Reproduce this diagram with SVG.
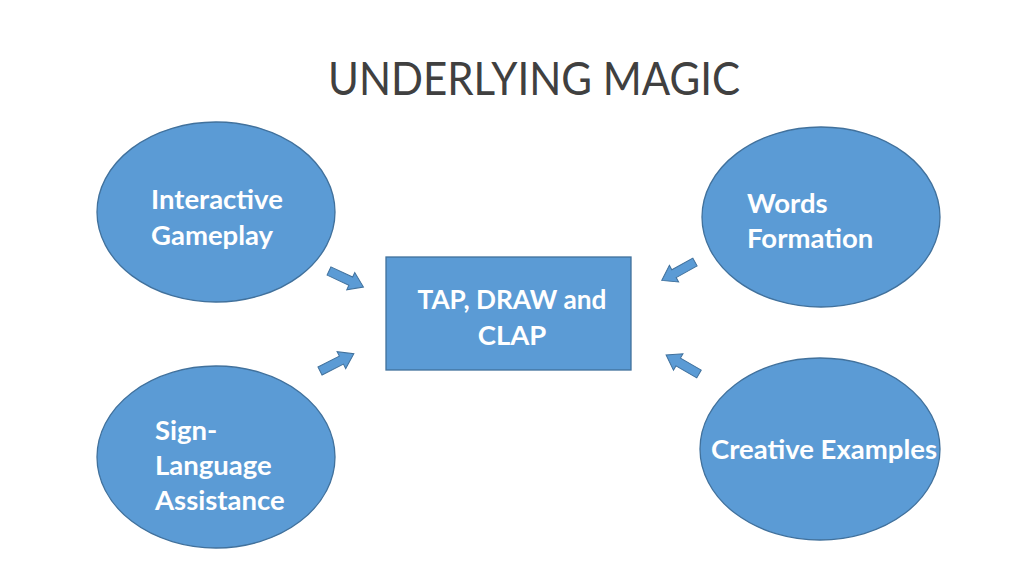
<svg xmlns="http://www.w3.org/2000/svg" width="1024" height="576" viewBox="0 0 1024 576">
<style>
.shape{fill:#5B9BD5;stroke:#41719C;stroke-width:1.3}
.lbl{font-family:Lato,"Open Sans",sans-serif;font-weight:bold;font-size:27.5px;fill:#ffffff}
.title{font-family:Lato,"Open Sans",sans-serif;font-size:46px;fill:#404040}
.arr{fill:#5B9BD5;stroke:#41719C;stroke-width:1}
</style>
<defs>
<path id="blk" d="M0,-4.5 L24,-4.5 L24,-9.5 L38,0 L24,9.5 L24,4.5 L0,4.5 Z"/>
</defs>
<rect width="1024" height="576" fill="#ffffff"/>
<text class="title" x="534" y="95" text-anchor="middle" textLength="412" lengthAdjust="spacingAndGlyphs">UNDERLYING MAGIC</text>
<g id="connectors">
<use href="#blk" class="arr" transform="translate(329,271) rotate(25)"/>
<use href="#blk" class="arr" transform="translate(320,371) rotate(-27)"/>
<use href="#blk" class="arr" transform="translate(695,262) rotate(151)"/>
<use href="#blk" class="arr" transform="translate(699,374) rotate(210)"/>
</g>
<g id="interactive">
<ellipse class="shape" cx="216" cy="212" rx="119" ry="90"/>
<text class="lbl" x="151" y="209">Interactive</text>
<text class="lbl" x="151" y="245">Gameplay</text>
</g>
<g id="words">
<ellipse class="shape" cx="821" cy="217" rx="119" ry="90"/>
<text class="lbl" x="747" y="213">Words</text>
<text class="lbl" x="747" y="248">Formation</text>
</g>
<g id="center">
<rect class="shape" x="386" y="257" width="245" height="113"/>
<text class="lbl" x="512" y="309" text-anchor="middle" textLength="189" lengthAdjust="spacingAndGlyphs">TAP, DRAW and</text>
<text class="lbl" x="512" y="345" text-anchor="middle">CLAP</text>
</g>
<g id="sign">
<ellipse class="shape" cx="216" cy="457" rx="119" ry="91"/>
<text class="lbl" x="155" y="440">Sign-</text>
<text class="lbl" x="155" y="475">Language</text>
<text class="lbl" x="155" y="510">Assistance</text>
</g>
<g id="creative">
<ellipse class="shape" cx="820" cy="449" rx="120" ry="91"/>
<text class="lbl" x="711" y="459">Creative Examples</text>
</g>
</svg>
